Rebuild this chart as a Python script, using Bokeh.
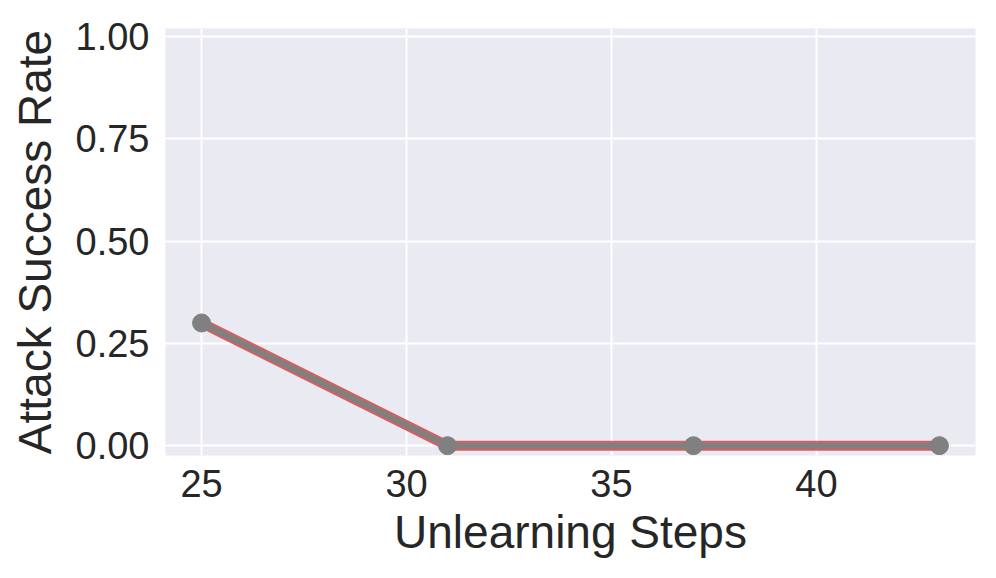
from bokeh.plotting import figure
from bokeh.embed import file_html
from bokeh.resources import INLINE
from bokeh.models import Range1d, FixedTicker

steps = [25, 31, 37, 43]
asr = [0.30, 0.0, 0.0, 0.0]
x_ticks = [25, 30, 35, 40]
y_ticks = [0.0, 0.25, 0.5, 0.75, 1.0]
y_tick_labels = {0.0: "0.00", 0.25: "0.25", 0.5: "0.50", 0.75: "0.75", 1.0: "1.00"}

FONT = "Liberation Sans"
TXT = "#262626"

p = figure(width=980, height=562, output_backend="svg", toolbar_location=None,
           x_range=Range1d(24.12, 43.88), y_range=Range1d(-0.024, 1.02),
           min_border_left=165, min_border_right=5, min_border_top=28, min_border_bottom=107)
p.background_fill_color = "#EAEAF2"
p.border_fill_color = "white"
p.outline_line_color = None

for ax in (p.xaxis, p.yaxis):
    ax.axis_line_color = None
    ax.major_tick_line_color = None
    ax.minor_tick_line_color = None
    ax.major_label_text_font = FONT
    ax.major_label_text_font_size = "38px"
    ax.major_label_text_color = TXT
    ax.axis_label_text_font = FONT
    ax.axis_label_text_font_size = "46px"
    ax.axis_label_text_font_style = "normal"
    ax.axis_label_text_color = TXT

p.xaxis.ticker = FixedTicker(ticks=x_ticks)
p.yaxis.ticker = FixedTicker(ticks=y_ticks)
p.yaxis.major_label_overrides = y_tick_labels
p.xaxis.axis_label = "Unlearning Steps"
p.yaxis.axis_label = "Attack Success Rate"
p.xaxis.major_label_standoff = 8
p.yaxis.major_label_standoff = 10
p.xaxis.axis_label_standoff = 6
p.yaxis.axis_label_standoff = 12

for g in (p.xgrid, p.ygrid):
    g.grid_line_color = "white"
    g.grid_line_width = 2
p.xgrid.ticker = FixedTicker(ticks=x_ticks)
p.ygrid.ticker = FixedTicker(ticks=y_ticks)

p.line(steps, asr, line_color="#D65F5F", line_width=10)
p.line(steps, asr, line_color="#808080", line_width=6)
p.scatter(steps, asr, size=18, fill_color="#808080", line_color="#808080")

open("out.html", "w").write(file_html(p, INLINE))
